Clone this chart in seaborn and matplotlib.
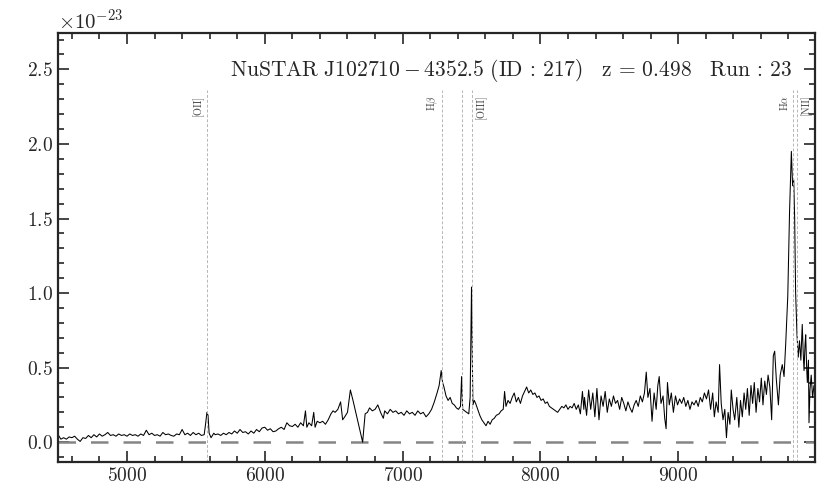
import numpy as np
import pandas as pd
import seaborn as sns
import matplotlib.pyplot as plt
from matplotlib.ticker import MultipleLocator

# spectrum values (flux in units of 1e-23)
wave = [4500, 4520, 4540, 4560, 4580, 4600, 4620, 4640, 4660, 4680, 4700, 4720, 4740, 4760, 4780,
        4800, 4820, 4840, 4860, 4880, 4900, 4920, 4940, 4960, 4980, 5000, 5020, 5040, 5060, 5080,
        5100, 5120, 5140, 5160, 5180, 5200, 5220, 5240, 5260, 5280, 5300, 5320, 5340, 5360, 5380,
        5400, 5420, 5440, 5460, 5480, 5500, 5520, 5540, 5560,
        5570, 5580, 5588, 5596, 5610, 5630,
        5640, 5660, 5680, 5700, 5720, 5740, 5760, 5780, 5800, 5820, 5840, 5860, 5880, 5900, 5920,
        5940, 5960, 5980, 6000, 6020, 6040, 6060, 6080, 6100, 6120, 6140, 6160, 6180, 6200, 6220,
        6240, 6260, 6280, 6295, 6305, 6320, 6340, 6355, 6365, 6380, 6400, 6420, 6440, 6460, 6480,
        6495, 6510, 6530, 6550, 6565, 6580, 6600, 6621, 6640, 6710, 6728, 6745, 6760, 6780, 6800,
        6820, 6840, 6860, 6870, 6890, 6910, 6930, 6950, 6970, 6990, 7010, 7030, 7050, 7070, 7090,
        7110, 7130, 7150, 7170, 7190, 7210, 7230, 7250, 7265, 7280, 7290, 7300, 7315, 7330, 7345,
        7360, 7375, 7390, 7405, 7420, 7428, 7436, 7450, 7465, 7480, 7490, 7500, 7510, 7520, 7530,
        7545, 7560, 7575, 7590, 7605, 7620, 7635, 7650, 7665, 7680, 7700, 7715, 7730, 7740, 7750,
        7765, 7780, 7795, 7810, 7825, 7840, 7855, 7870, 7885, 7900, 7915, 7930, 7945, 7960, 7975,
        7990, 8005, 8020, 8035, 8050, 8065, 8080, 8095, 8110, 8125, 8140, 8155, 8170, 8185, 8200,
        8215, 8230, 8245, 8260, 8275, 8290, 8305, 8315,
        8320, 8335, 8350, 8365, 8380, 8395, 8410, 8425, 8440, 8455, 8470, 8485, 8500, 8515, 8530,
        8545, 8560, 8575, 8590, 8605, 8620, 8635, 8650, 8665, 8680, 8695, 8710, 8725, 8740, 8755,
        8768, 8780, 8795, 8810, 8825, 8840, 8852, 8862, 8875, 8890, 8902, 8912, 8922, 8935, 8950,
        8965, 8980, 8995, 9010, 9025, 9040, 9055, 9070, 9085, 9100, 9115, 9130, 9145, 9160, 9175,
        9190, 9205, 9220, 9235, 9250, 9262, 9275, 9290, 9300, 9312, 9325, 9338, 9350, 9362, 9375,
        9385, 9398, 9410, 9425, 9440, 9452, 9465, 9478, 9490, 9502, 9515, 9528, 9540, 9552, 9565,
        9578, 9590, 9603, 9615, 9628, 9640, 9652, 9665, 9678, 9690, 9700, 9712, 9727, 9740, 9755,
        9768, 9780, 9795, 9808, 9821, 9830, 9838, 9845, 9852, 9862, 9871, 9880, 9890, 9900, 9907,
        9913, 9920, 9925, 9932, 9937, 9945, 9949, 9956, 9965, 9975, 9985]
flux = [0.05, 0.02, 0.03, 0.02, 0.035, 0.03, 0.04, 0.02, 0.005, 0.03, 0.025, 0.045, 0.03, 0.05, 0.035,
        0.055, 0.04, 0.05, 0.065, 0.045, 0.05, 0.04, 0.055, 0.045, 0.05, 0.04, 0.055, 0.045, 0.05, 0.04,
        0.055, 0.045, 0.08, 0.05, 0.06, 0.045, 0.05, 0.04, 0.065, 0.05, 0.055, 0.045, 0.04, 0.055, 0.05,
        0.085, 0.05, 0.06, 0.045, 0.065, 0.05, 0.06, 0.045, 0.05,
        0.12, 0.20, 0.18, 0.06, 0.03, 0.06,
        0.05, 0.055, 0.045, 0.06, 0.05, 0.065, 0.055, 0.075, 0.06, 0.085, 0.065, 0.07, 0.055, 0.075, 0.06,
        0.085, 0.07, 0.095, 0.10, 0.08, 0.09, 0.07, 0.075, 0.09, 0.10, 0.085, 0.13, 0.11, 0.105, 0.12,
        0.10, 0.13, 0.11, 0.21, 0.10, 0.13, 0.11, 0.20, 0.10, 0.14, 0.13, 0.14, 0.12, 0.15, 0.19,
        0.21, 0.20, 0.22, 0.27, 0.15, 0.17, 0.20, 0.35, 0.28, 0.0, 0.19, 0.20, 0.23, 0.21, 0.22,
        0.25, 0.20, 0.16, 0.21, 0.19, 0.22, 0.20, 0.21, 0.19, 0.20, 0.18, 0.21, 0.19, 0.20, 0.18,
        0.21, 0.19, 0.20, 0.17, 0.19, 0.22, 0.27, 0.33, 0.38, 0.48, 0.40, 0.37, 0.31, 0.28, 0.30,
        0.26, 0.25, 0.23, 0.22, 0.24, 0.44, 0.22, 0.21, 0.20, 0.19, 0.30, 1.04, 0.25, 0.28, 0.26,
        0.22, 0.18, 0.15, 0.13, 0.11, 0.14, 0.12, 0.15, 0.16, 0.18, 0.19, 0.21, 0.22, 0.34, 0.24,
        0.28, 0.26, 0.30, 0.33, 0.27, 0.30, 0.26, 0.31, 0.34, 0.37, 0.33, 0.35, 0.32, 0.33, 0.30,
        0.31, 0.28, 0.29, 0.26, 0.27, 0.24, 0.23, 0.22, 0.21, 0.20, 0.22, 0.24, 0.23, 0.25, 0.22,
        0.24, 0.23, 0.26, 0.22, 0.25, 0.19, 0.34, 0.22,
        0.30, 0.18, 0.35, 0.22, 0.33, 0.17, 0.36, 0.15, 0.31, 0.24, 0.34, 0.20, 0.29, 0.24, 0.31,
        0.26, 0.28, 0.22, 0.30, 0.26, 0.21, 0.27, 0.23, 0.20, 0.25, 0.28, 0.24, 0.31, 0.27, 0.33,
        0.47, 0.30, 0.36, 0.14, 0.33, 0.22, 0.38, 0.44, 0.26, 0.31, 0.16, 0.09, 0.40, 0.25, 0.33,
        0.20, 0.31, 0.25, 0.29, 0.26, 0.30, 0.24, 0.28, 0.22, 0.27, 0.25, 0.28, 0.24, 0.30, 0.27,
        0.33, 0.29, 0.35, 0.22, 0.33, 0.17, 0.27, 0.20, 0.52, 0.26, 0.15, 0.22, 0.03, 0.20, 0.12,
        0.35, 0.22, 0.15, 0.30, 0.10, 0.28, 0.17, 0.33, 0.22, 0.36, 0.18, 0.38, 0.26, 0.40, 0.20,
        0.36, 0.27, 0.43, 0.25, 0.41, 0.32, 0.45, 0.37, 0.15, 0.58, 0.61, 0.42, 0.25, 0.45, 0.52,
        0.44, 0.66, 0.98, 1.55, 1.95, 1.72, 1.76, 1.50, 1.00, 0.72, 0.57, 0.68, 0.55, 0.79, 0.60,
        0.48, 0.65, 0.72, 0.50, 0.40, 0.55, 0.13, 0.35, 0.45, 0.30, 0.38]

# emission lines (rest wavelength) and redshift
z = 0.498
line_rest = [3727.0, 4861.3, 4958.9, 5006.8, 6562.8, 6583.4]
line_labels = ["[OII]", r"H$\beta$", "", "[OIII]", r"H$\alpha$", "[NII]"]
label_side = [-1, -1, 0, 1, -1, 1]

title = r"$\rm NuSTAR\ J102710-4352.5\ (ID\,:\,217)\quad z\,=\,0.498\quad Run\,:\,23$"

sns.set_style("ticks")
plt.rcParams["font.family"] = ["cmr10"]
plt.rcParams["mathtext.fontset"] = "cm"
plt.rcParams["axes.formatter.use_mathtext"] = True
plt.rcParams["axes.unicode_minus"] = False

df = pd.DataFrame({"wave": wave, "flux": np.array(flux) * 1e-23})

fig = plt.figure(figsize=(8.3, 4.98), dpi=100)
ax = fig.add_axes([0.07, 0.072, 0.912, 0.862])

ax.axhline(0, color="#858585", lw=1.8, dashes=(7, 6))
sns.lineplot(data=df, x="wave", y="flux", color="k", lw=0.75, ax=ax, estimator=None, sort=False)

for rest, lab, side in zip(line_rest, line_labels, label_side):
    obs = rest * (1 + z)
    ax.axvline(obs, ymax=0.867, color="#b5b5b5", lw=0.7, ls=(0, (3, 2)))
    if lab:
        ax.annotate(lab, xy=(obs, 2.33e-23), xytext=(side * 6.5, 0), textcoords="offset points",
                    rotation=90, ha="center", va="top", fontsize=7.5, color="#444444")

ax.text(0.969, 0.912, title, transform=ax.transAxes, ha="right", va="center", fontsize=15.5)

ax.set_xlim(4500, 9993)
ax.set_ylim(-0.134e-23, 2.745e-23)
ax.set_xlabel("")
ax.set_ylabel("")
ax.xaxis.set_major_locator(MultipleLocator(1000))
ax.xaxis.set_minor_locator(MultipleLocator(200))
ax.yaxis.set_major_locator(MultipleLocator(0.5e-23))
ax.yaxis.set_minor_locator(MultipleLocator(0.1e-23))
ax.tick_params(which="both", direction="in", top=True, right=True, labelsize=14, width=1.2)
ax.tick_params(which="major", length=8)
ax.tick_params(which="minor", length=4)
ax.yaxis.get_offset_text().set_fontsize(15)
for s in ax.spines.values():
    s.set_linewidth(1.6)

fig.savefig("out.png", dpi=100)
